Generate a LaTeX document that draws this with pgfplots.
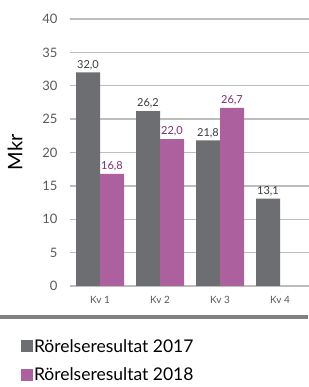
\documentclass[border=0pt]{standalone}
\usepackage{pgfplots}
\pgfplotsset{compat=1.18}
\usepackage{fontspec}
\setmainfont{Lato}
\definecolor{bargray}{HTML}{6D6E71}
\definecolor{barpink}{HTML}{AD609E}
\definecolor{labgray}{HTML}{3A3A3A}
\definecolor{labpink}{HTML}{7B2C72}
\definecolor{tickgray}{HTML}{595959}
\definecolor{gridgray}{HTML}{BDBDBD}
\definecolor{sepgray}{HTML}{808080}
\begin{document}
\begin{tikzpicture}
\useasboundingbox (0pt,0pt) rectangle (308pt,387pt);
\begin{axis}[
  at={(70pt,101pt)}, anchor=south west,
  scale only axis, width=240pt, height=267pt,
  xmin=0.5, xmax=4.5, ymin=0, ymax=40,
  ybar=0pt, bar width=24pt,
  xtick={1,2,3,4}, xticklabels={Kv 1,Kv 2,Kv 3,Kv 4},
  ytick={0,5,...,40},
  axis line style={draw=none},
  ymajorgrids, grid style={gridgray, line width=1.4pt},
  major tick length=0pt,
  tick label style={text=tickgray},
  y tick label style={font=\fontsize{13}{15}\selectfont, xshift=-9pt},
  x tick label style={font=\fontsize{10}{12}\selectfont, yshift=-7pt},
  /pgf/number format/assume math mode=true,
  ylabel={Mkr},
  ylabel style={font=\fontsize{20}{22}\selectfont, at={(axis description cs:-0.229,0.5)}, anchor=center},
  nodes near coords,
  nodes near coords style={font=\fontsize{11}{12}\selectfont, inner sep=2.5pt,
    /pgf/number format/fixed, /pgf/number format/fixed zerofill,
    /pgf/number format/precision=1, /pgf/number format/use comma,
    /pgf/number format/assume math mode=true},
  legend style={at={(axis description cs:-0.205,-0.195)}, anchor=north west, draw=none, fill=none,
    font=\fontsize{17.5}{19}\selectfont, row sep=12pt, inner sep=0pt,
    nodes={inner sep=1pt, anchor=west}},
  legend cell align=left,
  legend image code/.code={\fill[#1] (0pt,-6pt) rectangle (12pt,6pt);},
]
\addplot[fill=bargray, draw=none, every node near coord/.append style={text=labgray}]
  coordinates {(1,32.0) (2,26.2) (3,21.8) (4,13.1)};
\addplot[fill=barpink, draw=none, every node near coord/.append style={text=labpink}]
  coordinates {(1,16.8) (2,22.0) (3,26.7)};
\legend{Rörelseresultat 2017, Rörelseresultat 2018}
\end{axis}
\draw[sepgray, line width=3.5pt] (0pt,70pt) -- (308pt,70pt);
\end{tikzpicture}
\end{document}
